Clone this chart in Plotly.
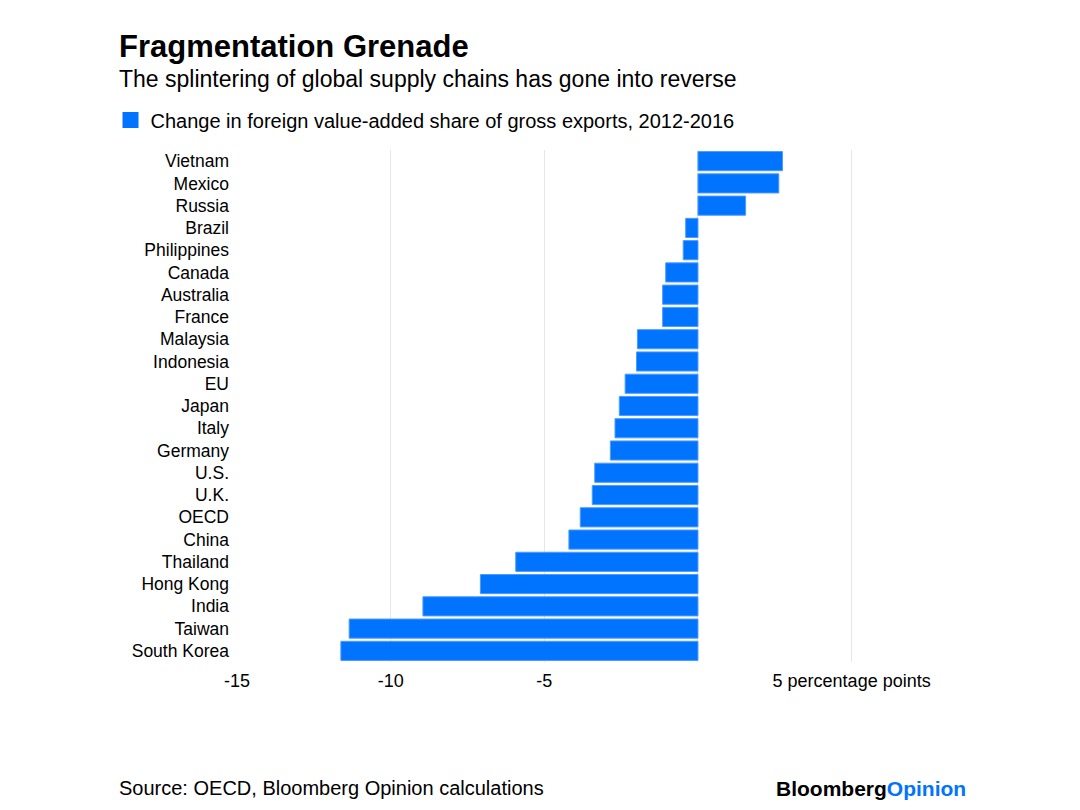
import plotly.graph_objects as go

countries = ["Vietnam", "Mexico", "Russia", "Brazil", "Philippines", "Canada", "Australia",
             "France", "Malaysia", "Indonesia", "EU", "Japan", "Italy", "Germany", "U.S.",
             "U.K.", "OECD", "China", "Thailand", "Hong Kong", "India", "Taiwan", "South Korea"]
values = [2.75, 2.63, 1.55, -0.4, -0.48, -1.05, -1.15, -1.15, -1.97, -2.0, -2.37, -2.56,
          -2.7, -2.85, -3.36, -3.44, -3.83, -4.2, -5.93, -7.08, -8.95, -11.35, -11.62]
tick_vals = [-15, -10, -5, 0, 5]
tick_text = ["-15", "-10", "-5", "", "5 percentage points"]
grid_vals = [-10, -5, 0, 5]
series_name = "Change in foreign value-added share of gross exports, 2012-2016"

BLUE = "#0073FF"
FONT = "Liberation Sans, Arial, sans-serif"

OFF = 8  # page body margin offset
W, H = 1080, 810
L, R, T, B = 237 - OFF, 213 + OFF, 150 - OFF, 148 + OFF
x_range = [-15, 5.5]
pw, ph = W - L - R, H - T - B

def px(x):
    return (x - OFF - L) / pw

def py(y):
    return (H - B - (y - OFF)) / ph

fig = go.Figure()
fig.add_trace(go.Bar(
    y=countries, x=values, orientation="h",
    marker=dict(color=BLUE, line=dict(color="#4D9BFF", width=1)),
    showlegend=False, hoverinfo="x+y",
))
fig.add_trace(go.Scatter(
    x=[None], y=[None], mode="markers", name=series_name,
    marker=dict(symbol="square", size=20, color=BLUE),
    showlegend=True,
))
fig.add_trace(go.Scatter(x=[None], y=[None], xaxis="x2", showlegend=False))

fig.update_layout(
    width=W, height=H,
    margin=dict(l=L, r=R, t=T, b=B),
    paper_bgcolor="white", plot_bgcolor="white",
    font=dict(family=FONT, color="#000000", size=17.5),
    bargap=0.14,
    xaxis=dict(range=x_range, tickvals=tick_vals, ticktext=tick_text,
               showgrid=False, zeroline=False, showline=False, ticks="",
               tickfont=dict(size=18, color="#000"), ticklabelstandoff=6),
    xaxis2=dict(range=x_range, overlaying="x", tickvals=grid_vals, showticklabels=False,
                showgrid=True, gridcolor="#E6E6E6", gridwidth=1, zeroline=False,
                layer="below traces"),
    yaxis=dict(categoryorder="array", categoryarray=countries[::-1],
               showgrid=False, zeroline=False, ticks="", showline=False,
               tickfont=dict(size=17.5, color="#000"), ticklabelstandoff=7),
    legend=dict(x=px(110.5), y=py(120), xanchor="left", yanchor="middle",
                font=dict(size=20, color="#000"), bgcolor="rgba(0,0,0,0)",
                itemwidth=30),
)

annotations = [
    dict(text="<b>Fragmentation Grenade</b>", x=px(117), y=py(46), font=dict(size=31)),
    dict(text="The splintering of global supply chains has gone into reverse",
         x=px(117), y=py(79), font=dict(size=23)),
    dict(text="Source: OECD, Bloomberg Opinion calculations", x=px(117), y=py(788),
         font=dict(size=20)),
    dict(text="<b>Bloomberg</b><b><span style='color:" + BLUE + "'>Opinion</span></b>",
         x=px(774), y=py(788), font=dict(size=21)),
]
for a in annotations:
    fig.add_annotation(xref="paper", yref="paper", xanchor="left", yanchor="middle",
                       showarrow=False, **a)

fig.write_html("out.html")
